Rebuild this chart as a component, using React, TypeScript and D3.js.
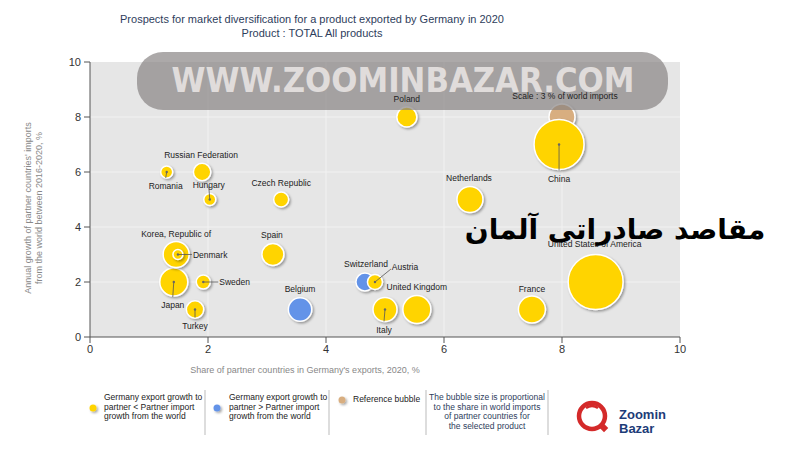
import React from "react";
import * as d3 from "d3";

const countries = ["Romania","Russian Federation","Hungary","Czech Republic","Korea, Republic of","Denmark","Spain","Japan","Sweden","Turkey","Belgium","Switzerland","Austria","United Kingdom","Italy","Poland","Netherlands","China","United States of America","France"];
const shareExports = [1.30,1.90,2.03,3.24,1.46,1.49,3.10,1.42,1.92,1.78,3.56,4.66,4.83,5.54,5.00,5.37,6.44,7.95,8.57,7.49];
const importGrowth = [6,6,5,5,3,3,3,2,2,1,1,2,2,1,1,8,5,7,2,1];
const worldShare = [0.64,1.34,0.64,1.0,3.0,0.44,2.15,3.48,0.87,1.34,2.43,1.44,1.0,3.48,2.56,1.78,3.0,11.1,13.4,3.24];
const exporterFaster = [false,false,false,false,false,false,false,false,false,false,true,true,false,false,false,false,false,false,false,false];
const referenceShare = 3;
const referencePoint = [8, 8];
const xTicks = [0,2,4,6,8,10];
const yTicks = [0,2,4,6,8,10];

// label layout (offsets from bubble centre, in px) — layout only
const labelLayout: Record<string, { dx: number; dy: number; leader?: boolean; anchor?: string }> = {
  "Romania": { dx: -1, dy: 14, leader: true },
  "Russian Federation": { dx: -1, dy: -17 },
  "Hungary": { dx: -1, dy: -15, leader: true },
  "Czech Republic": { dx: 0, dy: -17 },
  "Korea, Republic of": { dx: 0, dy: -21 },
  "Denmark": { dx: 15, dy: 0, leader: true, anchor: "start" },
  "Spain": { dx: -1, dy: -20 },
  "Japan": { dx: -1, dy: 23, leader: true },
  "Sweden": { dx: 16, dy: 0, leader: true, anchor: "start" },
  "Turkey": { dx: 0, dy: 16, leader: true },
  "Belgium": { dx: 0, dy: -21 },
  "Switzerland": { dx: 1, dy: -18 },
  "Austria": { dx: 30, dy: -15, leader: true },
  "United Kingdom": { dx: 0, dy: -23 },
  "Italy": { dx: -1, dy: 20, leader: true },
  "Poland": { dx: 0, dy: -18 },
  "Netherlands": { dx: -1, dy: -22 },
  "China": { dx: 0, dy: 34, leader: true },
  "United States of America": { dx: -1, dy: -38 },
  "France": { dx: 0, dy: -21 },
};

const YELLOW = "#ffd400";
const BLUE = "#6393e8";
const TAN = "#d8ae80";

export default function App() {
  const x = d3.scaleLinear().domain([0, 10]).range([90, 680]);
  const y = d3.scaleLinear().domain([0, 10]).range([337, 62]);
  const r = d3.scaleSqrt().domain([0, referenceShare]).range([0, 13]);

  const data = countries.map((c, i) => ({
    name: c, x: shareExports[i], y: importGrowth[i], s: worldShare[i], blue: exporterFaster[i],
  }));
  const sorted = [...data].sort((a, b) => b.s - a.s);
  const font = "'Liberation Sans', Arial, sans-serif";
  const narrow = "'Liberation Sans Narrow', 'Liberation Sans', Arial, sans-serif";

  return (
    <svg width={800} height={450} style={{ position: "absolute", left: 0, top: 0, background: "#fff" }} fontFamily={font}>
      <defs>
        <filter id="sh" x="-50%" y="-50%" width="200%" height="200%">
          <feDropShadow dx="1.5" dy="1.5" stdDeviation="1" floodColor="#000" floodOpacity="0.35" />
        </filter>
      </defs>
      {/* title */}
      <text x={312} y={23} textAnchor="middle" fontSize={11} fill="#2e3d5c">Prospects for market diversification for a product exported by Germany in 2020</text>
      <text x={312} y={37} textAnchor="middle" fontSize={11} fill="#2e3d5c">Product : TOTAL All products</text>

      {/* plot area */}
      <rect x={x(0)} y={y(10)} width={x(10) - x(0)} height={y(0) - y(10)} fill="#e6e6e6" />
      {xTicks.slice(1, -1).map(t => (
        <line key={"gx" + t} x1={x(t)} x2={x(t)} y1={y(0)} y2={y(10)} stroke="#f2f2f2" strokeWidth={1} />
      ))}
      {yTicks.slice(1, -1).map(t => (
        <line key={"gy" + t} x1={x(0)} x2={x(10)} y1={y(t)} y2={y(t)} stroke="#f2f2f2" strokeWidth={1} />
      ))}

      {/* axes */}
      <line x1={x(0)} x2={x(0)} y1={y(0)} y2={y(10)} stroke="#555" />
      <line x1={x(0)} x2={x(10)} y1={y(0)} y2={y(0)} stroke="#555" />
      {yTicks.map(t => (
        <g key={"ty" + t}>
          <line x1={x(0) - 6} x2={x(0)} y1={y(t)} y2={y(t)} stroke="#555" />
          <text x={x(0) - 9} y={y(t) + 4} textAnchor="end" fontSize={11} fontFamily={narrow} fill="#333">{t}</text>
        </g>
      ))}
      {xTicks.map(t => (
        <g key={"tx" + t}>
          <line x1={x(t)} x2={x(t)} y1={y(0)} y2={y(0) + 6} stroke="#555" />
          <text x={x(t)} y={y(0) + 16} textAnchor="middle" fontSize={11} fontFamily={narrow} fill="#333">{t}</text>
        </g>
      ))}
      <text x={305} y={373} textAnchor="middle" fontSize={9} fill="#888">Share of partner countries in Germany's exports, 2020, %</text>
      <g transform="translate(31,208) rotate(-90)">
        <text x={0} y={0} textAnchor="middle" fontSize={9} fill="#888">Annual growth of partner countries' imports</text>
        <text x={0} y={11} textAnchor="middle" fontSize={9} fill="#888">from the world between 2016-2020, %</text>
      </g>

      {/* reference bubble */}
      <circle cx={x(referencePoint[0])} cy={y(referencePoint[1])} r={r(referenceShare)} fill={TAN} stroke="#fff" strokeWidth={1.5} filter="url(#sh)" />

      {/* bubbles */}
      {sorted.map(d => (
        <circle key={d.name} cx={x(d.x)} cy={y(d.y)} r={r(d.s)} fill={d.blue ? BLUE : YELLOW} stroke="#fff" strokeWidth={1.5} filter="url(#sh)" />
      ))}

      {/* leaders + labels below the banner */}
      {data.map(d => {
        const L = labelLayout[d.name];
        const cx = x(d.x), cy = y(d.y);
        const lx = cx + L.dx, ly = cy + L.dy;
        let ex = lx, ey = ly;
        if (L.anchor === "start") { ex = lx - 1; ey = ly; }
        else if (L.dy > 0) ey = ly - 8;
        else ey = ly + 2;
        if (d.name === "Austria") { ex = lx - 14; ey = ly + 2; }
        return (
          <g key={"l" + d.name}>
            {L.leader && (
              <>
                <line x1={cx} y1={cy} x2={ex} y2={ey} stroke="#555" strokeWidth={0.8} />
                <circle cx={cx} cy={cy} r={1.2} fill="#666" />
              </>
            )}
            {cy + L.dy > 112 && (
              <text x={lx} y={ly + 3} textAnchor={L.anchor || "middle"} fontSize={8.5} fill="#222">{d.name}</text>
            )}
          </g>
        );
      })}

      {/* watermark banner */}
      <rect x={137} y={52} width={531} height={58} rx={26} fill="#858080" fillOpacity={0.68} />
      <text x={403} y={92} textAnchor="middle" fontSize={33} fontWeight="bold" fontFamily="'DejaVu Sans', sans-serif" fill="#ece8e6" fillOpacity={0.85} textLength={463} lengthAdjust="spacingAndGlyphs">WWW.ZOOMINBAZAR.COM</text>

      {/* labels that sit within the banner zone */}
      {data.filter(d => y(d.y) + labelLayout[d.name].dy <= 112).map(d => (
        <text key={"t" + d.name} x={x(d.x) + labelLayout[d.name].dx} y={y(d.y) + labelLayout[d.name].dy + 3} textAnchor="middle" fontSize={8.5} fill="#222">{d.name}</text>
      ))}
      <text x={x(referencePoint[0]) + 3} y={y(referencePoint[1]) - 18} textAnchor="middle" fontSize={8.5} fill="#222">Scale : 3 % of world imports</text>

      <text x={615} y={239} textAnchor="middle" fontSize={28} fontWeight="bold" fontFamily="'DejaVu Sans', 'Noto Sans', sans-serif" fill="#000">مقاصد صادراتی آلمان</text>

      {/* legend */}
      <circle cx={93} cy={408} r={3.5} fill={YELLOW} filter="url(#sh)" />
      <g fontSize={8.5} fill="#222">
        <text x={104} y={400}>Germany export growth to</text>
        <text x={104} y={409.5}>partner &lt; Partner import</text>
        <text x={104} y={419}>growth from the world</text>
      </g>
      <line x1={205} x2={205} y1={390} y2={435} stroke="#bbb" />
      <circle cx={217} cy={408} r={3.5} fill={BLUE} filter="url(#sh)" />
      <g fontSize={8.5} fill="#222">
        <text x={229} y={400}>Germany export growth to</text>
        <text x={229} y={409.5}>partner &gt; Partner import</text>
        <text x={229} y={419}>growth from the world</text>
      </g>
      <line x1={329} x2={329} y1={390} y2={435} stroke="#bbb" />
      <circle cx={342} cy={400} r={3.5} fill={TAN} filter="url(#sh)" />
      <text x={353} y={402} fontSize={8.5} fill="#222">Reference bubble</text>
      <line x1={426} x2={426} y1={390} y2={435} stroke="#bbb" />
      <g fontSize={8.5} fill="#2e3d5c" textAnchor="middle">
        <text x={487} y={400}>The bubble size is proportional</text>
        <text x={487} y={409.5}>to the share in world imports</text>
        <text x={487} y={419}>of partner countries for</text>
        <text x={487} y={428.5}>the selected product</text>
      </g>
      <line x1={548} x2={548} y1={390} y2={435} stroke="#bbb" />

      {/* logo */}
      <circle cx={592} cy={416} r={13} fill="none" stroke="#d42a2a" strokeWidth={4.5} />
      <path d="M586,408 Q592,404 598,408" fill="none" stroke="#d42a2a" strokeWidth={2.5} />
      <rect x={601} y={425} width={6} height={6} fill="#d42a2a" transform="rotate(45 604 428)" />
      <text x={619} y={419} fontSize={13} fontWeight="bold" fill="#1d3c78">Zoomin</text>
      <text x={619} y={433} fontSize={13} fontWeight="bold" fill="#1d3c78">Bazar</text>
    </svg>
  );
}
